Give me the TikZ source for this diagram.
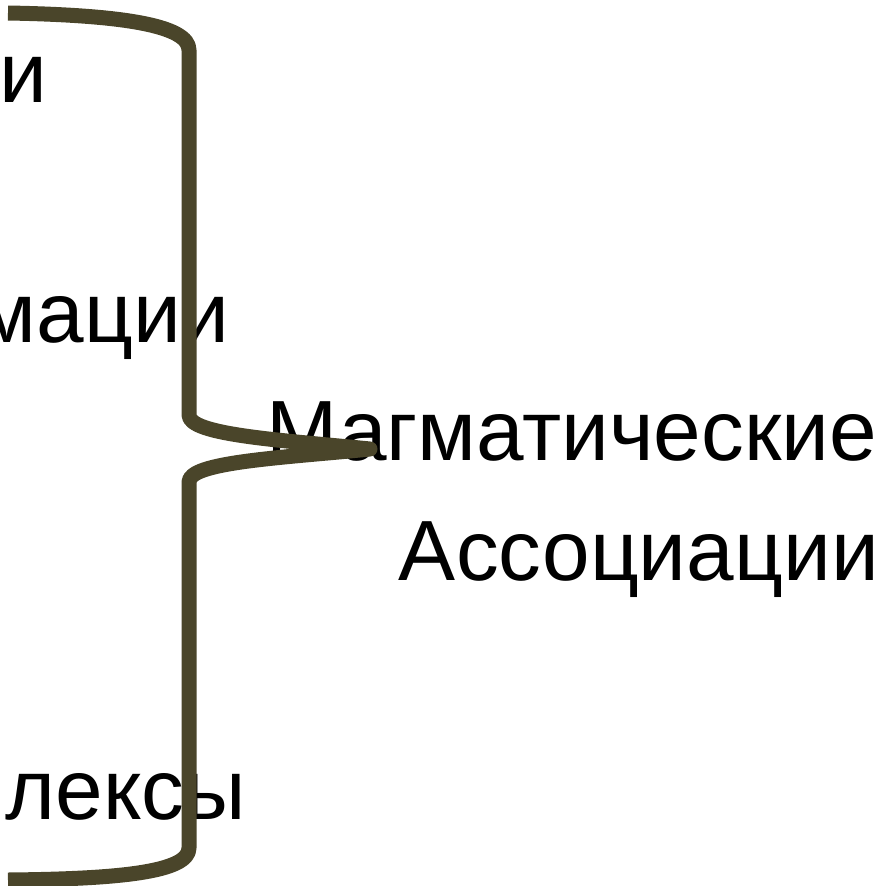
\documentclass[tikz,border=0pt]{standalone}
\usepackage{fontspec}
\setmainfont{Liberation Sans}
\usetikzlibrary{positioning}
\definecolor{braceolive}{RGB}{74,69,42}

\begin{document}
\begin{tikzpicture}[x=1pt, y=-1pt,
    lbl/.style={inner sep=0pt, font=\fontsize{85.5}{100}\selectfont},
    bracestroke/.style={draw=braceolive, line width=15pt, line join=round}]
         \useasboundingbox (0,0) rectangle (884,886);
         \clip (0,0) rectangle (884,886);
         \node [lbl, anchor=base east] (LT) at (47, 102) {и};
         \node [lbl, anchor=base east] (LM) at (229, 342) {мации};
         \node [lbl, anchor=base east] (LB) at (246, 819) {лексы};
         \node [lbl, anchor=base east] (MA) at (877, 460) {Магматические};
         \node [lbl, anchor=base east] (AS) at (879, 580) {Ассоциации};
         \coordinate (top) at (8, 13);
         \coordinate (tip) at (370, 449);
         \coordinate (bot) at (8, 880);
         \draw [bracestroke] (top) .. controls (120, 15) and (189, 25) .. (189, 50)
               -- (189, 415) .. controls (189, 435) and (280, 440) .. (tip)
               .. controls (280, 458) and (189, 462) .. (189, 482)
               -- (189, 848) .. controls (189, 872) and (120, 879) .. (bot);
 \end{tikzpicture}
\end{document}
